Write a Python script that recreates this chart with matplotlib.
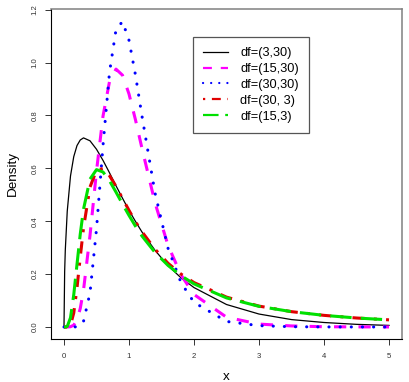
import matplotlib
matplotlib.use('Agg')
import matplotlib.pyplot as plt

plt.rcParams['font.family'] = ['Liberation Sans', 'DejaVu Sans']

# F densities
x = [0, 0.01, 0.02, 0.05, 0.1, 0.15, 0.2, 0.25, 0.3, 0.4, 0.5, 0.6, 0.7, 0.8,
     0.9, 1.0, 1.1, 1.2, 1.4, 1.6, 1.8, 2.0, 2.5, 3.0, 3.5, 4.0, 4.5, 5.0]
f_3_30 = [0, 0.209, 0.291, 0.438, 0.571, 0.644, 0.686, 0.707, 0.715, 0.704,
          0.672, 0.630, 0.583, 0.534, 0.487, 0.441, 0.399, 0.359, 0.290, 0.232,
          0.186, 0.149, 0.085, 0.049, 0.028, 0.017, 0.010, 0.006]
f_15_30 = [0, 0, 0, 0, 0.001, 0.007, 0.027, 0.070, 0.139, 0.346, 0.589, 0.797,
           0.928, 0.975, 0.952, 0.881, 0.783, 0.675, 0.470, 0.309, 0.197, 0.123,
           0.037, 0.011, 0.004, 0.001, 0.0004, 0.0002]
f_30_30 = [0, 0, 0, 0, 0, 0, 0.001, 0.005, 0.021, 0.129, 0.370, 0.686, 0.963,
           1.124, 1.155, 1.084, 0.952, 0.797, 0.507, 0.298, 0.168, 0.093, 0.021,
           0.005, 0.001, 0.0003, 0.0001, 0]
f_30_3 = [0, 0, 0, 0.0001, 0.007, 0.053, 0.148, 0.264, 0.374, 0.529, 0.593,
          0.599, 0.572, 0.532, 0.486, 0.441, 0.398, 0.360, 0.294, 0.241, 0.200,
          0.168, 0.113, 0.079, 0.058, 0.044, 0.034, 0.027]
f_15_3 = [0, 0, 0, 0.002, 0.035, 0.122, 0.237, 0.351, 0.445, 0.559, 0.595,
          0.586, 0.553, 0.510, 0.465, 0.422, 0.381, 0.344, 0.282, 0.233, 0.194,
          0.163, 0.110, 0.078, 0.058, 0.044, 0.034, 0.027]
labels = ['df=(3,30)', 'df=(15,30)', 'df=(30,30)', 'df=(30, 3)', 'df=(15,3)']
xticks = [0, 1, 2, 3, 4, 5]
yticks = [0.0, 0.2, 0.4, 0.6, 0.8, 1.0, 1.2]

fig = plt.figure(figsize=(4.1, 3.82), dpi=100)
ax = fig.add_axes([51/410, 43/382, 351/410, 330/382])

lw = 2.2
ax.plot(x, f_3_30, color='black', lw=0.9, label=labels[0])
ax.plot(x, f_15_30, color='#ff00ff', lw=lw, ls=(0, (4, 4)), label=labels[1])
ax.plot(x, f_30_30, color='#0000ff', lw=lw, ls=(0, (0.05, 3.6)),
        dash_capstyle='round', label=labels[2])
ax.plot(x, f_30_3, color='#e00000', lw=lw, ls=(0, (1, 3, 4, 3)), label=labels[3])
ax.plot(x, f_15_3, color='#00e000', lw=lw, ls=(0, (7, 3)), label=labels[4])

ax.set_xlim(-0.2, 5.2)
ax.set_ylim(-0.0454, 1.2023)
ax.set_xticks(xticks)
ax.set_xticklabels([str(t) for t in xticks])
ax.set_yticks(yticks)
ax.set_yticklabels(['%.1f' % t for t in yticks], rotation=90, va='center')
ax.tick_params(direction='out', length=4.3, width=0.7, labelsize=5.6,
               color='#333333', labelcolor='#333333')
ax.tick_params(axis='x', pad=5.5)
ax.tick_params(axis='y', pad=4.5)

for s in ['left', 'bottom']:
    ax.spines[s].set_color('black')
    ax.spines[s].set_linewidth(0.8)
for s in ['top', 'right']:
    ax.spines[s].set_color('#808080')
    ax.spines[s].set_linewidth(1.1)

fig.text(226.5/410, 1 - 377/382, 'x', ha='center', va='center', fontsize=9.7)
fig.text(13/410, 1 - 174/382, 'Density', ha='center', va='center',
         rotation=90, fontsize=9.7)

leg = ax.legend(loc='upper left', bbox_to_anchor=(0.4046, 0.915),
                borderaxespad=0, fontsize=9.2, frameon=True, fancybox=False,
                handlelength=1.95, handletextpad=0.95, labelspacing=0.3,
                borderpad=0.8)
leg.get_frame().set_edgecolor('#555555')
leg.get_frame().set_linewidth(0.9)
leg.get_frame().set_alpha(1)
for line in leg.get_lines():
    if line.get_linewidth() > 1:
        line.set_linewidth(1.6)

fig.savefig('out.png', dpi=100)
